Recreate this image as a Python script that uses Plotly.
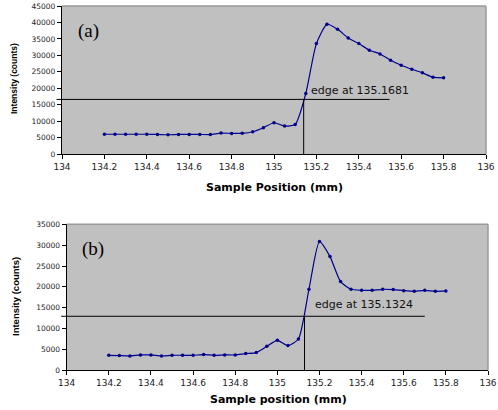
import plotly.graph_objects as go

# ---- data ----
pos_a = [134.2 + 0.05 * i for i in range(33)]
int_a = [6000, 6000, 6000, 6000, 6000, 5950, 5860, 5950, 5950, 5950, 5900,
         6370, 6270, 6300, 6770, 7990, 9500, 8490, 9000, 18400, 33570, 39430,
         37920, 35290, 33570, 31550, 30430, 28510, 27000, 25780, 24670, 23360, 23150]
pos_b = [134.2 + 0.05 * i for i in range(33)]
int_b = [3600, 3520, 3440, 3680, 3680, 3440, 3600, 3600, 3600, 3760, 3600,
         3680, 3680, 4000, 4240, 5760, 7190, 5920, 7510, 19420, 30850, 27260,
         21260, 19420, 19180, 19180, 19420, 19340, 19100, 18940, 19180, 18940, 19020]

edge_label_a = "edge at 135.1681"
edge_label_b = "edge at 135.1324"
edge_x_a, edge_level_a, hline_end_a = 135.14, 16600, 135.545
edge_x_b, edge_level_b, hline_end_b = 135.129, 12950, 135.70

xr = [134, 136]
yr_a = [0, 45000]
yr_b = [0, 35000]
xticks = [134, 134.2, 134.4, 134.6, 134.8, 135, 135.2, 135.4, 135.6, 135.8, 136]
xticktext = ["134", "134.2", "134.4", "134.6", "134.8", "135", "135.2", "135.4", "135.6", "135.8", "136"]

W, H = 498, 410
BG = "#c0c0c0"
LINE = "#00008b"

fig = go.Figure()
fig.add_trace(go.Scatter(x=pos_a, y=int_a, mode="lines+markers", line=dict(color=LINE, width=1.2, shape="spline", smoothing=0.6),
                         marker=dict(size=3.5, color=LINE), xaxis="x", yaxis="y", showlegend=False))
fig.add_trace(go.Scatter(x=pos_b, y=int_b, mode="lines+markers", line=dict(color=LINE, width=1.2, shape="spline", smoothing=0.6),
                         marker=dict(size=3.5, color=LINE), xaxis="x2", yaxis="y2", showlegend=False))

dom_a_x = [62 / W, 486 / W]
dom_a_y = [1 - 154 / H, 1 - 6 / H]
dom_b_x = [66.7 / W, 488 / W]
dom_b_y = [1 - 370.3 / H, 1 - 224.3 / H]

xfont = dict(family="DejaVu Sans", size=9, color="#222")
yfont = dict(family="DejaVu Sans", size=7.5, color="#222")

def xax(dom, anchor):
    return dict(domain=dom, range=xr, anchor=anchor, tickvals=xticks, ticktext=xticktext, automargin=False,
                showgrid=False, zeroline=False, showline=True, linecolor="black", linewidth=1.3,
                ticks="outside", ticklen=4, tickcolor="black", tickfont=xfont, fixedrange=True)

def yax(dom, anchor, rng, dtick):
    return dict(domain=dom, range=rng, anchor=anchor, dtick=dtick, tickformat="d", automargin=False,
                showgrid=False, zeroline=False, showline=True, linecolor="black", linewidth=1.3,
                ticks="outside", ticklen=4, tickcolor="black", tickfont=yfont, fixedrange=True)

fig.update_layout(
    width=W, height=H, margin=dict(l=0, r=0, t=0, b=0, autoexpand=False),
    paper_bgcolor="white", plot_bgcolor=BG,
    xaxis=xax(dom_a_x, "y"), yaxis=yax(dom_a_y, "x", yr_a, 5000),
    xaxis2=xax(dom_b_x, "y2"), yaxis2=yax(dom_b_y, "x2", yr_b, 5000),
)

shapes = []
# gray border top/right
for xd, yd in (("x", "y"), ("x2", "y2")):
    shapes.append(dict(type="line", xref=f"{xd} domain", yref=f"{yd} domain", x0=0, x1=1, y0=1, y1=1,
                       line=dict(color="#9a9a9a", width=1.5)))
    shapes.append(dict(type="line", xref=f"{xd} domain", yref=f"{yd} domain", x0=1, x1=1, y0=0, y1=1,
                       line=dict(color="#9a9a9a", width=1.5)))

def edge_shapes(xd, yd, rng_y, ex, lvl, hend):
    fx = lambda v: (v - xr[0]) / (xr[1] - xr[0])
    fy = lambda v: (v - rng_y[0]) / (rng_y[1] - rng_y[0])
    return [
        dict(type="line", xref=f"{xd} domain", yref=f"{yd} domain", x0=-0.013, x1=fx(hend), y0=fy(lvl), y1=fy(lvl),
             line=dict(color="black", width=1)),
        dict(type="line", xref=f"{xd} domain", yref=f"{yd} domain", x0=fx(ex), x1=fx(ex), y0=0, y1=fy(lvl),
             line=dict(color="black", width=1)),
    ]

shapes += edge_shapes("x", "y", yr_a, edge_x_a, edge_level_a, hline_end_a)
shapes += edge_shapes("x2", "y2", yr_b, edge_x_b, edge_level_b, hline_end_b)
fig.update_layout(shapes=shapes)

C = dict(xanchor="center", yanchor="middle", showarrow=False)
ann = []
ann.append(dict(text="(a)", xref="paper", yref="paper", x=88 / W, y=1 - 31 / H, **C,
                font=dict(family="Liberation Serif", size=19, color="black")))
ann.append(dict(text="(b)", xref="paper", yref="paper", x=93 / W, y=1 - 249 / H, **C,
                font=dict(family="Liberation Serif", size=19, color="black")))
ann.append(dict(text=edge_label_a, xref="x", yref="y", x=edge_x_a, y=edge_level_a, xanchor="left", yanchor="bottom",
                xshift=5, yshift=0, showarrow=False, font=dict(family="DejaVu Sans", size=11, color="#111")))
ann.append(dict(text=edge_label_b, xref="x2", yref="y2", x=edge_x_b, y=edge_level_b, xanchor="left", yanchor="bottom",
                xshift=8, yshift=3, showarrow=False, font=dict(family="DejaVu Sans", size=11, color="#111")))
# axis titles
ann.append(dict(text="<b>Sample Position (mm)</b>", xref="paper", yref="paper", x=274 / W, y=1 - 188 / H, **C,
                font=dict(family="DejaVu Sans", size=11, color="black")))
ann.append(dict(text="<b>Sample position (mm)</b>", xref="paper", yref="paper", x=278 / W, y=1 - 399 / H, **C,
                font=dict(family="DejaVu Sans", size=11, color="black")))
ann.append(dict(text="<b>Intensity (counts)</b>", xref="paper", yref="paper", x=14 / W, y=1 - 79 / H, textangle=-90, **C,
                font=dict(family="Liberation Sans Narrow, Liberation Sans", size=8.5, color="black")))
ann.append(dict(text="<b>Intensity (counts)</b>", xref="paper", yref="paper", x=15 / W, y=1 - 297 / H, textangle=-90, **C,
                font=dict(family="Liberation Sans", size=9.5, color="black")))
fig.update_layout(annotations=ann)

fig.write_html("out.html")
